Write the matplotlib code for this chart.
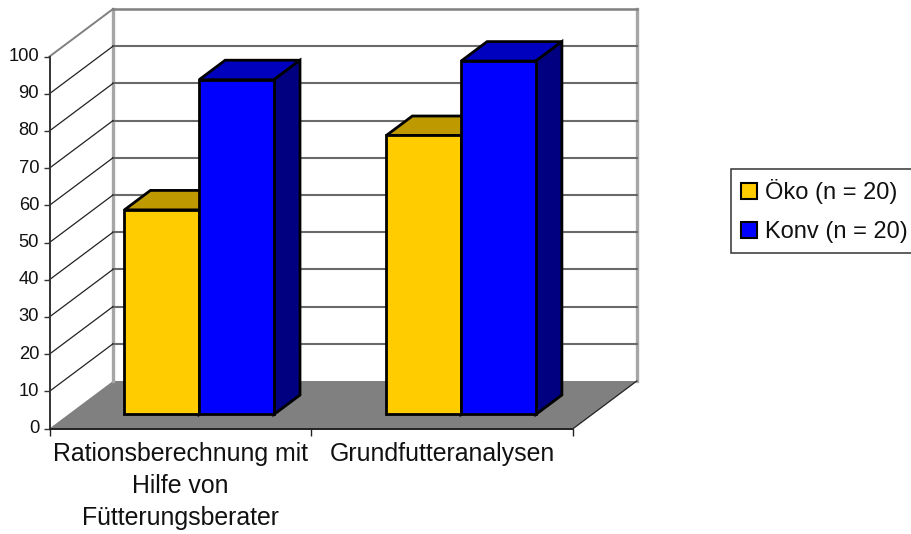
import matplotlib
matplotlib.use("Agg")
import matplotlib.pyplot as plt
from matplotlib.patches import Patch
from matplotlib.transforms import ScaledTranslation

plt.rcParams["font.family"] = ["Liberation Sans", "DejaVu Sans"]

categories = ["Rationsberechnung mit\nHilfe von\nFütterungsberater", "Grundfutteranalysen"]
series_names = ["Öko (n = 20)", "Konv (n = 20)"]
oeko = [55, 75]
konv = [90, 95]
y_ticks = [0, 10, 20, 30, 40, 50, 60, 70, 80, 90, 100]

W, H = 911, 534
# oblique depth of the plot box, in data units
DEPTH_X = 63.5 / 261.9
DEPTH_Y = 47.5 / 3.72
BAR_W = 0.2855
Z0, Z1 = 0.295, 0.705
EDGE = 2.0


def proj(x, y, z):
    return x + z * DEPTH_X, y + z * DEPTH_Y


def face(ax, pts, color, edge="none", lw=0, zorder=2):
    xs = [p[0] for p in pts]
    ys = [p[1] for p in pts]
    ax.fill(xs, ys, facecolor=color, edgecolor=edge, linewidth=lw,
            clip_on=False, zorder=zorder, joinstyle="miter")


def draw_bar(ax, x0, value, front, top, side):
    x1 = x0 + BAR_W
    # top, side and front of one column
    face(ax, [proj(x0, value, Z0), proj(x1, value, Z0), proj(x1, value, Z1), proj(x0, value, Z1)],
         top, "black", EDGE, 3)
    face(ax, [proj(x1, 0, Z0), proj(x1, 0, Z1), proj(x1, value, Z1), proj(x1, value, Z0)],
         side, "black", EDGE, 3)
    face(ax, [proj(x0, 0, Z0), proj(x1, 0, Z0), proj(x1, value, Z0), proj(x0, value, Z0)],
         front, "black", EDGE, 3)


fig = plt.figure(figsize=(W / 100, H / 100), dpi=100)
ax = fig.add_axes([49.5 / W, (H - 428.5) / H, 523.8 / W, 372 / H])
ax.patch.set_visible(False)
n = len(categories)
ax.set_xlim(0, n)
ax.set_ylim(0, 100)

# walls and floor
face(ax, [proj(0, 0, 0), proj(n, 0, 0), proj(n, 0, 1), proj(0, 0, 1)], "#808080", zorder=1)
bx, by = proj(0, 100, 1)
rx, _ = proj(n, 100, 1)
fx, fy = proj(0, 0, 1)
ax.plot([fx, bx], [fy, by], color="#a6a6a6", lw=2.4, clip_on=False, zorder=1.5)
ax.plot([rx, rx], [fy, by], color="#a6a6a6", lw=2.4, clip_on=False, zorder=1.5)
ax.plot([bx, rx], [by, by], color="#808080", lw=1.8, clip_on=False, zorder=1.5)
ax.plot([0, bx], [100, by], color="#808080", lw=1.4, clip_on=False, zorder=1.5)

# grid on back and left wall
for v in y_ticks[1:-1]:
    p = proj(0, v, 1)
    ax.plot([p[0], rx], [p[1], p[1]], color="#6a6a6a", lw=1.5, clip_on=False, zorder=1.5)
    ax.plot([0, p[0]], [v, p[1]], color="#222222", lw=0.9, clip_on=False, zorder=1.5)
p = proj(n, 0, 1)
ax.plot([n, p[0]], [0, p[1]], color="#222222", lw=0.9, clip_on=False, zorder=1.5)

for i in range(n):
    center = i + 0.5
    draw_bar(ax, center - BAR_W, oeko[i], "#FFCC00", "#BF9900", "#806600")
    draw_bar(ax, center, konv[i], "#0000FF", "#0000BF", "#000080")

# axes
for s in ["top", "right"]:
    ax.spines[s].set_visible(False)
ax.spines["left"].set_color("#333333")
ax.spines["bottom"].set_color("#222222")
ax.spines["left"].set_linewidth(1.4)
ax.spines["bottom"].set_linewidth(1.4)
ax.spines["left"].set_zorder(4)
ax.spines["bottom"].set_zorder(4)
ax.set_yticks(y_ticks)
ax.tick_params(axis="y", length=4.5, width=1.0, color="#333333", labelsize=13.2, pad=3, labelcolor="#111111")
for lab in ax.get_yticklabels():
    lab.set_transform(lab.get_transform() + ScaledTranslation(0, 1.5 / 72, fig.dpi_scale_trans))
ax.set_xticks(range(n + 1))
ax.set_xticklabels([])
ax.set_xticks([i + 0.5 for i in range(n)], minor=True)
ax.set_xticklabels(categories, minor=True, fontsize=17.9, linespacing=1.4, color="#111111")
ax.tick_params(axis="x", which="major", length=5, width=1.0, color="#222222")
ax.tick_params(axis="x", which="minor", length=0, pad=10)

handles = [Patch(facecolor="#FFCC00", edgecolor="black", linewidth=1.5),
           Patch(facecolor="#0000FF", edgecolor="black", linewidth=1.5)]
leg = fig.legend(handles, series_names, loc="upper left",
                 bbox_to_anchor=(731 / W, (H - 169) / H), bbox_transform=fig.transFigure,
                 fontsize=17, frameon=True, fancybox=False, framealpha=1, edgecolor="#333333",
                 borderpad=0.42, borderaxespad=0, handlelength=0.68, handleheight=0.68,
                 handletextpad=0.35, labelspacing=0.72, labelcolor="#111111")
leg.get_frame().set_linewidth(1.1)

fig.savefig("out.png", dpi=100)
